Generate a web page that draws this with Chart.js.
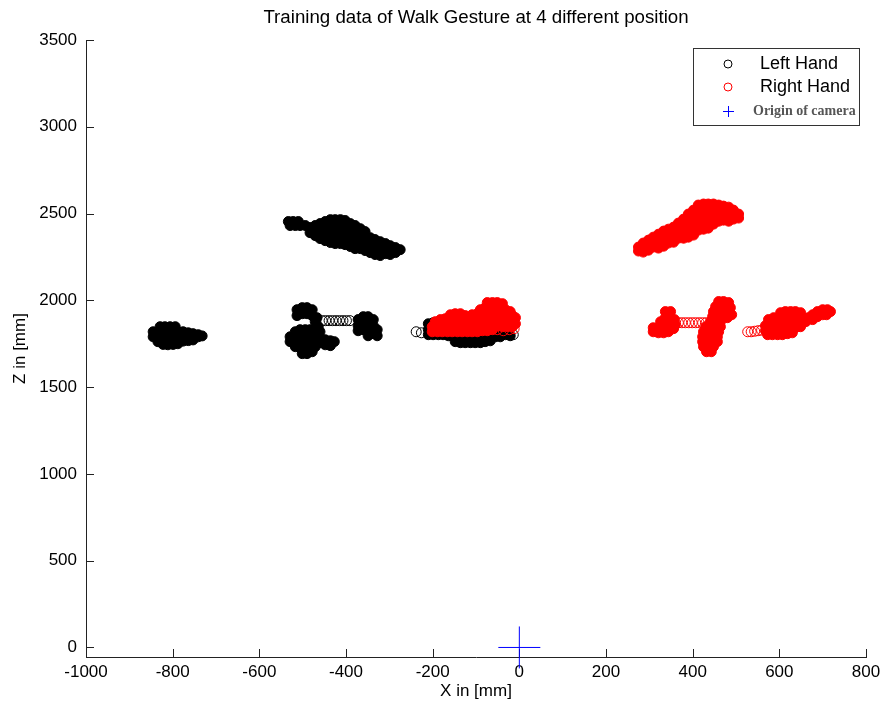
<!DOCTYPE html>
<html>
<head>
<meta charset="utf-8">
<title>Training data of Walk Gesture</title>
<script src="https://cdn.jsdelivr.net/npm/chart.js@4.4.1/dist/chart.umd.min.js"></script>
<style>
  html, body { margin: 0; padding: 0; background: #fff; }
  #wrap { width: 883px; height: 709px; }
</style>
</head>
<body>
<div id="wrap"><canvas id="chart" width="883" height="709"></canvas></div>
<script>
// hand positions, [X mm, Z mm]
// left hand, one block per standing position
var leftPos1 = [
  [-829,1848],[-818,1848],[-806,1848],[-794,1848],
  [-845,1819],[-834,1819],[-822,1819],[-811,1819],[-799,1819],[-788,1819],[-776,1819],
  [-845,1790],[-834,1790],[-822,1790],[-811,1790],[-799,1790],[-788,1790],[-776,1790],
  [-764,1790],[-753,1790],[-741,1790],[-732,1795],
  [-764,1813],[-753,1808],[-741,1802],
  [-834,1762],[-822,1762],[-811,1762],[-799,1762],[-788,1762],[-776,1765],[-764,1768],[-753,1772],
  [-822,1746],[-811,1744],[-799,1746],[-788,1750]
];
var leftPos2 = [
  [-533,2454],[-522,2454],[-510,2454],[-529,2431],[-517,2431],[-506,2431],[-494,2431],
  [-483,2419],[-483,2390],
  [-471,2431],[-471,2402],[-471,2373],
  [-460,2442],[-460,2413],[-460,2384],[-460,2356],
  [-448,2454],[-448,2425],[-448,2396],[-448,2367],[-448,2344],
  [-436,2465],[-436,2436],[-436,2408],[-436,2379],[-436,2350],[-436,2333],
  [-425,2465],[-425,2436],[-425,2408],[-425,2379],[-425,2350],[-425,2327],
  [-413,2465],[-413,2436],[-413,2408],[-413,2379],[-413,2350],[-413,2327],
  [-402,2460],[-402,2431],[-402,2402],[-402,2373],[-402,2344],[-402,2321],
  [-390,2442],[-390,2413],[-390,2384],[-390,2356],[-390,2327],[-390,2310],
  [-379,2431],[-379,2402],[-379,2373],[-379,2344],[-379,2315],[-379,2298],
  [-367,2413],[-367,2384],[-367,2356],[-367,2327],[-367,2298],
  [-356,2396],[-356,2367],[-356,2338],[-356,2310],[-356,2287],
  [-344,2361],[-344,2333],[-344,2304],[-344,2275],
  [-333,2350],[-333,2321],[-333,2292],[-333,2264],
  [-321,2338],[-321,2310],[-321,2281],[-321,2258],
  [-309,2327],[-309,2298],[-309,2269],
  [-298,2315],[-298,2287],[-298,2264],
  [-286,2304],[-286,2275],
  [-275,2292]
];
var leftPos3 = [
  [-513,1946],[-501,1958],[-490,1958],[-478,1946],[-513,1912],[-501,1923],[-490,1923],[-478,1912],[-467,1900],
  [-471,1877],[-464,1848],[-460,1819],
  [-372,1889],[-360,1906],[-349,1906],[-337,1889],[-372,1854],[-360,1871],[-349,1871],[-337,1854],
  [-328,1831],[-360,1831],[-349,1831],[-337,1808],[-349,1796],[-328,1796],[-372,1825],
  [-517,1819],[-506,1831],[-494,1831],[-483,1831],[-471,1819],
  [-529,1790],[-517,1790],[-506,1796],[-494,1796],[-483,1796],[-471,1790],[-460,1785],
  [-529,1762],[-517,1762],[-506,1762],[-494,1762],[-483,1762],[-471,1762],[-460,1756],
  [-517,1733],[-506,1727],[-494,1727],[-483,1727],[-471,1733],
  [-501,1693],[-490,1693],[-478,1704],
  [-448,1773],[-436,1767],[-427,1762],[-448,1744],[-436,1739]
];
var leftPos4 = [
  [-210,1865],[-199,1871],[-187,1871],[-176,1865],
  [-210,1831],[-199,1831],[-187,1831],[-176,1831],[-164,1831],
  [-210,1802],[-199,1802],[-187,1802],[-176,1802],[-164,1796],[-152,1790],
  [-148,1762],[-136,1756],[-125,1756],[-113,1756],[-102,1756],[-90,1756],[-79,1762],[-67,1767],
  [-141,1790],[-125,1790],[-109,1790],[-90,1790],[-72,1790],[-55,1790],[-44,1790],
  [-55,1813],[-44,1813],[-32,1802],[-21,1796]
];
// sparse stretches where single rings show
var leftTrail = [
  [-455,1883],[-447,1883],[-439,1883],[-431,1883],[-423,1883],[-415,1883],[-407,1883],[-399,1883],[-391,1883],
  [-238,1819],[-226,1813],[-25,1802],[-14,1802]
];

// right hand
var rightPos1 = [
  [-159,1917],[-148,1923],[-136,1923],[-125,1912],
  [-194,1877],[-182,1889],[-171,1894],[-159,1889],[-148,1889],[-136,1889],[-125,1883],
  [-201,1848],[-189,1848],[-178,1854],[-166,1854],[-155,1854],[-143,1854],[-132,1854],[-120,1854],
  [-201,1819],[-189,1819],[-178,1819],[-166,1819],[-155,1819],[-143,1819],[-132,1819],[-120,1819],
  [-74,1987],[-62,1987],[-51,1987],[-39,1981],
  [-90,1946],[-79,1958],[-67,1958],[-55,1958],[-44,1952],[-32,1946],[-21,1935],
  [-109,1917],[-97,1923],[-85,1929],[-74,1929],[-62,1929],[-51,1923],[-39,1923],[-28,1917],[-16,1912],[-9,1900],
  [-109,1889],[-97,1889],[-85,1894],[-74,1894],[-62,1894],[-51,1889],[-39,1889],[-28,1883],[-16,1877],[-9,1865],
  [-109,1854],[-97,1854],[-85,1860],[-74,1860],[-62,1854],[-51,1854],[-39,1848],[-28,1848],[-16,1848],
  [-109,1819],[-97,1819],[-85,1825],[-74,1825],[-62,1831]
];
var rightPos2 = [
  [275,2307],[275,2284],
  [286,2330],[286,2301],[286,2278],
  [298,2347],[298,2318],[298,2289],
  [309,2364],[309,2335],[309,2307],
  [321,2381],[321,2353],[321,2324],[321,2301],
  [333,2399],[333,2370],[333,2341],[333,2312],
  [344,2410],[344,2381],[344,2353],[344,2330],
  [356,2422],[356,2393],[356,2364],[356,2335],
  [367,2445],[367,2416],[367,2387],[367,2358],
  [379,2468],[379,2439],[379,2410],[379,2381],[379,2358],
  [390,2497],[390,2468],[390,2439],[390,2410],[390,2381],[390,2364],
  [402,2520],[402,2491],[402,2462],[402,2433],[402,2404],[402,2376],
  [413,2549],[413,2520],[413,2491],[413,2462],[413,2433],[413,2404],
  [425,2555],[425,2526],[425,2497],[425,2468],[425,2439],[425,2410],
  [436,2555],[436,2526],[436,2497],[436,2468],[436,2439],[436,2416],
  [448,2555],[448,2526],[448,2497],[448,2468],[448,2439],
  [460,2549],[460,2520],[460,2491],[460,2456],
  [471,2543],[471,2514],[471,2485],[471,2462],
  [483,2537],[483,2508],[483,2480],[483,2456],
  [494,2520],[494,2491],[494,2468],
  [506,2497],[506,2474]
];
var rightPos3 = [
  [337,1935],[349,1935],[337,1900],[349,1900],[358,1889],
  [326,1877],[337,1871],[349,1871],[360,1860],
  [309,1842],[321,1842],[333,1842],[344,1842],[356,1837],
  [309,1819],[321,1813],[333,1813],[344,1819],
  [460,1993],[471,1993],[483,1987],
  [453,1964],[464,1964],[476,1964],[487,1958],
  [448,1935],[460,1935],[471,1935],[483,1929],[490,1917],
  [446,1906],[457,1906],[469,1906],[480,1900],
  [441,1877],[453,1877],[464,1877],
  [430,1848],[441,1848],[453,1848],[464,1848],
  [425,1819],[436,1819],[448,1819],[460,1819],
  [423,1790],[434,1790],[446,1790],[457,1790],
  [423,1762],[434,1762],[446,1762],[457,1762],
  [425,1733],[436,1733],[448,1733],
  [432,1704],[443,1704]
];
var rightPos4 = [
  [603,1929],[614,1935],[626,1935],[637,1935],[649,1929],
  [575,1889],[587,1900],[598,1900],[610,1906],[621,1906],[633,1906],[644,1900],[656,1900],
  [568,1854],[580,1860],[591,1865],[603,1871],[614,1871],[626,1871],[637,1871],[649,1871],[661,1877],
  [568,1825],[580,1825],[591,1831],[603,1831],[614,1837],[626,1837],[637,1842],[649,1848],
  [573,1802],[584,1802],[596,1802],[607,1802],[619,1808],[630,1813],
  [667,1900],[677,1917],[688,1935],[700,1946],[711,1946],[718,1935],
  [677,1889],[688,1906],[700,1917],[709,1917]
];
var rightTrail = [
  [-51,1831],[-37,1825],[-23,1831],[-12,1837],
  [367,1871],[375,1871],[383,1871],[391,1871],[399,1871],[407,1871],[415,1871],[423,1871],[431,1871],
  [527,1819],[535,1819],[543,1822],[551,1825],[559,1828]
];

var cameraOrigin = [[0, 0]];

var xTicks = [-1000, -800, -600, -400, -200, 0, 200, 400, 600, 800];
var yTicks = [0, 500, 1000, 1500, 2000, 2500, 3000, 3500];
var seriesLabels = ['Left Hand', 'Right Hand', 'Origin of camera'];
var chartTitle = 'Training data of Walk Gesture at 4 different position';

function toXY(pts) {
    return pts.map(function(p) { return { x: p[0], y: p[1] }; });
}

Chart.defaults.font.family = '"Liberation Sans", Arial, Helvetica, sans-serif';
Chart.defaults.color = '#000';

// MATLAB style ticks point into the axes, title centred over the axes box
var axesDecor = {
    id: 'axesDecor',
    beforeDatasetsDraw: function(chart) {
        var ctx = chart.ctx, area = chart.chartArea;
        var xs = chart.scales.x, ys = chart.scales.y;
        ctx.save();
        ctx.strokeStyle = '#222';
        ctx.lineWidth = 1;
        ctx.beginPath();
        xs.ticks.forEach(function(t) {
            var px = Math.round(xs.getPixelForValue(t.value)) + 0.5;
            ctx.moveTo(px, area.bottom);
            ctx.lineTo(px, area.bottom - 8);
        });
        ys.ticks.forEach(function(t) {
            var py = Math.round(ys.getPixelForValue(t.value)) + 0.5;
            ctx.moveTo(area.left, py);
            ctx.lineTo(area.left + 8, py);
        });
        ctx.stroke();

        ctx.fillStyle = '#000';
        ctx.font = '18.7px "Liberation Sans", Arial, sans-serif';
        ctx.textAlign = 'center';
        ctx.textBaseline = 'middle';
        ctx.fillText(chartTitle, (area.left + area.right) / 2, 18);
        ctx.restore();
    }
};

// boxed legend, upper right
var boxLegend = {
    id: 'boxLegend',
    afterDraw: function(chart) {
        var ctx = chart.ctx;
        var bx = 693.5, by = 48.5, bw = 166, bh = 77;
        ctx.save();
        ctx.fillStyle = '#fff';
        ctx.fillRect(bx, by, bw, bh);
        ctx.strokeStyle = '#333';
        ctx.lineWidth = 1;
        ctx.strokeRect(bx, by, bw, bh);

        ctx.strokeStyle = '#000';
        ctx.beginPath();
        ctx.arc(728, 64, 4, 0, Math.PI * 2);
        ctx.stroke();
        ctx.strokeStyle = '#ff0000';
        ctx.beginPath();
        ctx.arc(728, 87, 4, 0, Math.PI * 2);
        ctx.stroke();
        ctx.strokeStyle = '#0000ff';
        ctx.beginPath();
        ctx.moveTo(723, 111.5); ctx.lineTo(734, 111.5);
        ctx.moveTo(728.5, 106); ctx.lineTo(728.5, 117);
        ctx.stroke();

        ctx.textBaseline = 'middle';
        ctx.textAlign = 'left';
        ctx.fillStyle = '#000';
        ctx.font = '18px "Liberation Sans", Arial, sans-serif';
        ctx.fillText(seriesLabels[0], 760, 64);
        ctx.fillText(seriesLabels[1], 760, 87);
        ctx.fillStyle = '#555';
        ctx.font = 'bold 14px "Liberation Serif", "Times New Roman", serif';
        ctx.fillText(seriesLabels[2], 753, 111);
        ctx.restore();
    }
};

var ctx = document.getElementById('chart').getContext('2d');
var chart = new Chart(ctx, {
    type: 'scatter',
    data: {
        datasets: [
            {
                label: seriesLabels[2],
                data: toXY(cameraOrigin),
                pointStyle: 'cross',
                pointRadius: 21,
                borderColor: '#0000ff',
                borderWidth: 1,
                clip: false,
                order: 0
            },
            {
                label: seriesLabels[1],
                data: toXY([].concat(rightPos1, rightPos2, rightPos3, rightPos4)),
                pointRadius: 5,
                borderWidth: 1,
                borderColor: '#ff0000',
                backgroundColor: '#ff0000',
                order: 1
            },
            {
                label: seriesLabels[1] + ' trail',
                data: toXY(rightTrail),
                pointRadius: 5,
                borderWidth: 1,
                borderColor: '#ff0000',
                backgroundColor: 'rgba(0,0,0,0)',
                order: 2
            },
            {
                label: seriesLabels[0],
                data: toXY([].concat(leftPos1, leftPos2, leftPos3, leftPos4)),
                pointRadius: 5,
                borderWidth: 1,
                borderColor: '#000',
                backgroundColor: '#000',
                order: 3
            },
            {
                label: seriesLabels[0] + ' trail',
                data: toXY(leftTrail),
                pointRadius: 5,
                borderWidth: 1,
                borderColor: '#000',
                backgroundColor: 'rgba(0,0,0,0)',
                order: 4
            }
        ]
    },
    options: {
        responsive: false,
        animation: false,
        events: [],
        layout: {
            autoPadding: false,
            padding: { left: 0, right: 17, top: 40, bottom: 0 }
        },
        plugins: {
            legend: { display: false },
            tooltip: { enabled: false },
            title: { display: false }
        },
        scales: {
            x: {
                type: 'linear',
                position: 'bottom',
                min: -1000,
                max: 800,
                afterBuildTicks: function(scale) {
                    scale.ticks = xTicks.map(function(v) { return { value: v }; });
                },
                afterFit: function(scale) {
                    scale.height = 52;
                    scale.paddingLeft = 0;
                    scale.paddingRight = 0;
                },
                grid: { display: false, drawTicks: false },
                border: { display: true, color: '#222', width: 1 },
                ticks: {
                    font: { size: 17 },
                    color: '#000',
                    padding: 5,
                    autoSkip: false,
                    maxRotation: 0,
                    callback: function(v) { return String(v); }
                },
                title: {
                    display: true,
                    text: 'X in [mm]',
                    color: '#000',
                    font: { size: 17 },
                    padding: { top: 0, bottom: 7 }
                }
            },
            y: {
                type: 'linear',
                position: 'left',
                min: -55,
                max: 3500,
                afterBuildTicks: function(scale) {
                    scale.ticks = yTicks.map(function(v) { return { value: v }; });
                },
                afterFit: function(scale) {
                    scale.width = 86;
                    scale.paddingTop = 0;
                    scale.paddingBottom = 0;
                },
                grid: { display: false, drawTicks: false },
                border: { display: true, color: '#222', width: 1 },
                ticks: {
                    font: { size: 17 },
                    color: '#000',
                    padding: 9,
                    autoSkip: false,
                    callback: function(v) { return String(v); }
                },
                title: {
                    display: true,
                    text: 'Z in [mm]',
                    color: '#000',
                    font: { size: 17 },
                    padding: { top: 10, bottom: 0 }
                }
            }
        }
    },
    plugins: [axesDecor, boxLegend]
});
</script>
</body>
</html>
